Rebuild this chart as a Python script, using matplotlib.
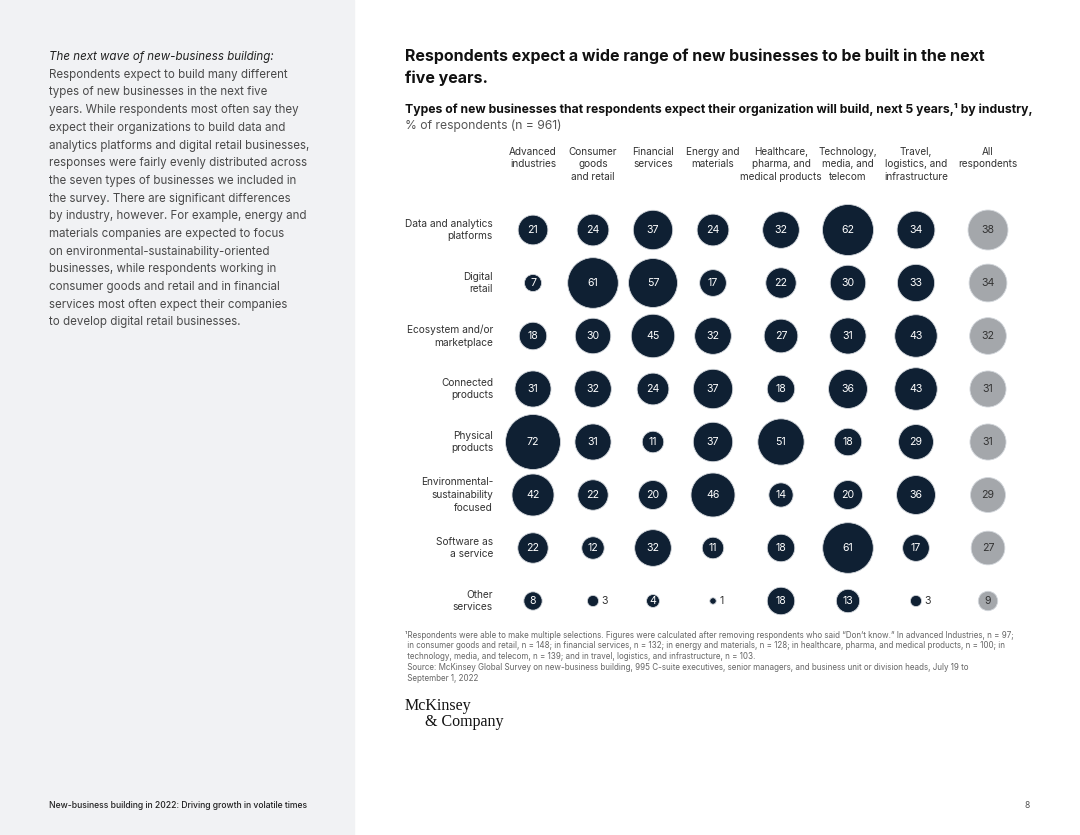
import numpy as np
import matplotlib
matplotlib.use('Agg')
from matplotlib import pyplot as plt
from matplotlib.patches import Circle, Rectangle

plt.rcParams['font.family'] = ['Inter', 'DejaVu Sans']

# data
industries = ["Advanced\nindustries", "Consumer\ngoods\nand retail", "Financial\nservices",
              "Energy and\nmaterials", "Healthcare,\npharma, and\nmedical products",
              "Technology,\nmedia, and\ntelecom", "Travel,\nlogistics, and\ninfrastructure",
              "All\nrespondents"]
business_types = ["Data and analytics\nplatforms", "Digital\nretail", "Ecosystem and/or\nmarketplace",
                  "Connected\nproducts", "Physical\nproducts", "Environmental-\nsustainability\nfocused",
                  "Software as\na service", "Other\nservices"]
data_analytics = [21, 24, 37, 24, 32, 62, 34, 38]
digital_retail = [7, 61, 57, 17, 22, 30, 33, 34]
ecosystem = [18, 30, 45, 32, 27, 31, 43, 32]
connected = [31, 32, 24, 37, 18, 36, 43, 31]
physical = [72, 31, 11, 37, 51, 18, 29, 31]
sustainability = [42, 22, 20, 46, 14, 20, 36, 29]
saas = [22, 12, 32, 11, 18, 61, 17, 27]
other = [8, 3, 4, 1, 18, 13, 3, 9]
values = np.array([data_analytics, digital_retail, ecosystem, connected,
                   physical, sustainability, saas, other])

# layout (pixels)
col_x = [533, 593, 653, 713, 781, 848, 916, 988]
row_y0, row_step = 230, 53
max_r = 27.5

NAVY = '#0f2033'
GRAY = '#a4a7ab'

fig = plt.figure(figsize=(10.8, 8.35), dpi=100)
ax = fig.add_axes([0, 0, 1, 1])
ax.set_xlim(0, 1080)
ax.set_ylim(835, 0)
ax.axis('off')

ax.add_patch(Rectangle((0, 0), 354, 835, color='#f1f2f4', zorder=0))

# left panel text
left_lines = ["Respondents expect to build many different",
              "types of new businesses in the next five",
              "years. While respondents most often say they",
              "expect their organizations to build data and",
              "analytics platforms and digital retail businesses,",
              "responses were fairly evenly distributed across",
              "the seven types of businesses we included in",
              "the survey. There are significant differences",
              "by industry, however. For example, energy and",
              "materials companies are expected to focus",
              "on environmental-sustainability-oriented",
              "businesses, while respondents working in",
              "consumer goods and retail and in financial",
              "services most often expect their companies",
              "to develop digital retail businesses."]
ax.text(49, 57, "The next wave of new-business building:", fontsize=8.3, style='italic',
        color='#222222', va='center')
for i, line in enumerate(left_lines):
    ax.text(49, 74.7 + i * 17.7, line, fontsize=8.3, color='#4a4a4a', va='center')

ax.text(49, 806, "New-business building in 2022: Driving growth in volatile times",
        fontsize=6.2, color='#222222', va='center', fontweight='medium')
ax.text(1030, 806, "8", fontsize=6.2, color='#555555', va='center', ha='right')

# titles
ax.text(405, 56, "Respondents expect a wide range of new businesses to be built in the next",
        fontsize=11.5, fontweight='bold', color='#111111', va='center')
ax.text(405, 78, "five years.", fontsize=11.5, fontweight='bold', color='#111111', va='center')
ax.text(405, 110, "Types of new businesses that respondents expect their organization will build, next 5 years,\u00b9 by industry,",
        fontsize=8.75, fontweight='bold', color='#111111', va='center')
ax.text(405, 126, "% of respondents (n = 961)", fontsize=8.75, color='#555555', va='center')

# column headers
for j, name in enumerate(industries):
    ax.text(col_x[j], 147, name, fontsize=7.2, color='#333333', ha='center', va='top',
            linespacing=1.3)

# row labels and bubbles
for i, name in enumerate(business_types):
    y = row_y0 + i * row_step
    ax.text(493, y, name, fontsize=7.3, color='#333333', ha='right', va='center',
            linespacing=1.35)
    for j in range(len(industries)):
        v = values[i, j]
        r = max_r * np.sqrt(v / values.max())
        face = GRAY if j == len(industries) - 1 else NAVY
        ax.add_patch(Circle((col_x[j], y), r, facecolor=face, edgecolor='#d3d7dc',
                            linewidth=0.6, zorder=2))
        if v <= 3:
            ax.text(col_x[j] + r + 3, y, str(v), fontsize=7.6, color='#333333',
                    ha='left', va='center', zorder=3)
        else:
            tc = '#333333' if j == len(industries) - 1 else 'white'
            ax.text(col_x[j], y, str(v), fontsize=7.6, color=tc, ha='center',
                    va='center', zorder=3)

# footnote
foot = ["\u00b9Respondents were able to make multiple selections. Figures were calculated after removing respondents who said \u201cDon\u2019t know.\u201d In advanced Industries, n = 97;",
        " in consumer goods and retail, n = 148; in financial services, n = 132; in energy and materials, n = 128; in healthcare, pharma, and medical products, n = 100; in",
        " technology, media, and telecom, n = 139; and in travel, logistics, and infrastructure, n = 103.",
        " Source: McKinsey Global Survey on new-business building, 995 C-suite executives, senior managers, and business unit or division heads, July 19 to",
        " September 1, 2022"]
for i, line in enumerate(foot):
    ax.text(405, 635 + i * 10.8, line, fontsize=5.8, color='#666666', va='center')

# logo
ax.text(405, 706, "McKinsey", fontsize=11.5, family=['Liberation Serif'], color='#111111', va='center')
ax.text(425, 722, "& Company", fontsize=11.5, family=['Liberation Serif'], color='#111111', va='center')

fig.savefig('out.png', dpi=100)
